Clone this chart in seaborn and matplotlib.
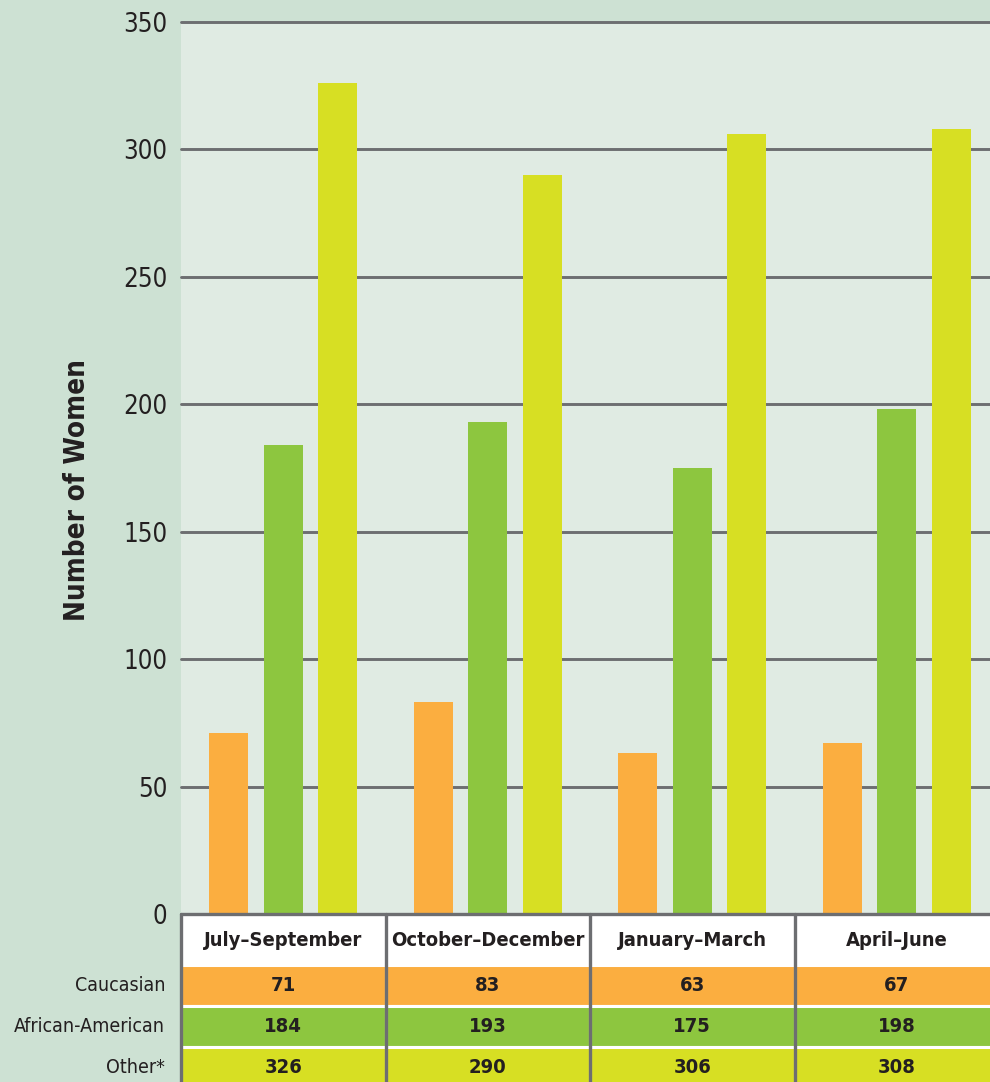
import matplotlib
matplotlib.use("Agg")
import matplotlib.pyplot as plt
import seaborn as sns
import pandas as pd

quarters = ["July\u2013September", "October\u2013December", "January\u2013March", "April\u2013June"]
groups = ["Caucasian", "African-American", "Other*"]
caucasian = [71, 83, 63, 67]
african_american = [184, 193, 175, 198]
other = [326, 290, 306, 308]
colors = ["#fbae40", "#8dc63f", "#d7df23"]
yticks = [0, 50, 100, 150, 200, 250, 300, 350]

series = [caucasian, african_american, other]
df = pd.DataFrame({
    "Quarter": [q for s in series for q in quarters],
    "Group": [g for g, s in zip(groups, series) for _ in s],
    "Value": [v for s in series for v in s],
})

sns.set_theme(style="white")
plt.rcParams["font.family"] = ["DejaVu Sans"]
plt.rcParams["font.stretch"] = "condensed"

GRID = "#6d6e71"
TXT = "#231f20"
W, H = 990, 1082
fig = plt.figure(figsize=(W / 100, H / 100), dpi=100, facecolor="#cde1d3")

ax = fig.add_axes([181 / W, (H - 914) / H, 818 / W, 892 / H])
ax.set_facecolor("#e0ebe3")
sns.barplot(data=df, x="Quarter", y="Value", hue="Group", order=quarters,
            hue_order=groups, palette=colors, width=0.8, gap=0.29,
            saturation=1, ax=ax, legend=False, zorder=3, linewidth=0)
ax.set_xlim(-0.5, 3.5)
ax.set_ylim(0, 350)
ax.set_yticks(yticks)
ax.set_yticklabels([str(t) for t in yticks], fontsize=18.5, color=TXT)
ax.tick_params(axis="y", length=0, pad=10)
ax.set_xticks([])
ax.set_xlabel("")
ax.set_ylabel("")
ax.text(-0.127, 0.475, "Number of Women", transform=ax.transAxes, rotation=90,
        ha="center", va="center", fontsize=20, fontweight="bold", color=TXT)
ax.set_axisbelow(True)
ax.yaxis.grid(True, color=GRID, linewidth=2.1)
for ln in ax.get_ygridlines():
    ln.set_clip_on(False)
for sp in ax.spines.values():
    sp.set_visible(False)

# data table below the chart
tax = fig.add_axes([181 / W, (H - 1088) / H, 818 / W, 174 / H])
tax.set_facecolor("white")
tax.set_xlim(-0.5, 3.5)
tax.set_ylim(4.25, 0)
xs = list(range(len(quarters)))
for i, (s, c) in enumerate(zip(series, colors)):
    tax.bar(xs, [1.0] * len(xs), bottom=1.25 + i, width=1.0, color=c,
            edgecolor="white", linewidth=2.2, align="center")
    for x, v in zip(xs, s):
        tax.text(x, 1.75 + i, str(v), ha="center", va="center",
                 fontsize=14.5, fontweight="bold", color=TXT)
    tax.text(-0.5 - 16 / 204.5, 1.75 + i, groups[i], ha="right", va="center",
             fontsize=14, color=TXT, clip_on=False)
for x, q in zip(xs, quarters):
    tax.text(x, 0.64, q, ha="center", va="center", fontsize=14.5,
             fontweight="bold", color=TXT)
for b in [-0.5, 0.5, 1.5, 2.5]:
    tax.axvline(b, color=GRID, linewidth=2.4, zorder=5, clip_on=False)
tax.axhline(0, color=GRID, linewidth=2.4, zorder=5, clip_on=False)
tax.set_xticks([])
tax.set_yticks([])
for sp in tax.spines.values():
    sp.set_visible(False)

fig.savefig("out.png", dpi=100, facecolor=fig.get_facecolor())
